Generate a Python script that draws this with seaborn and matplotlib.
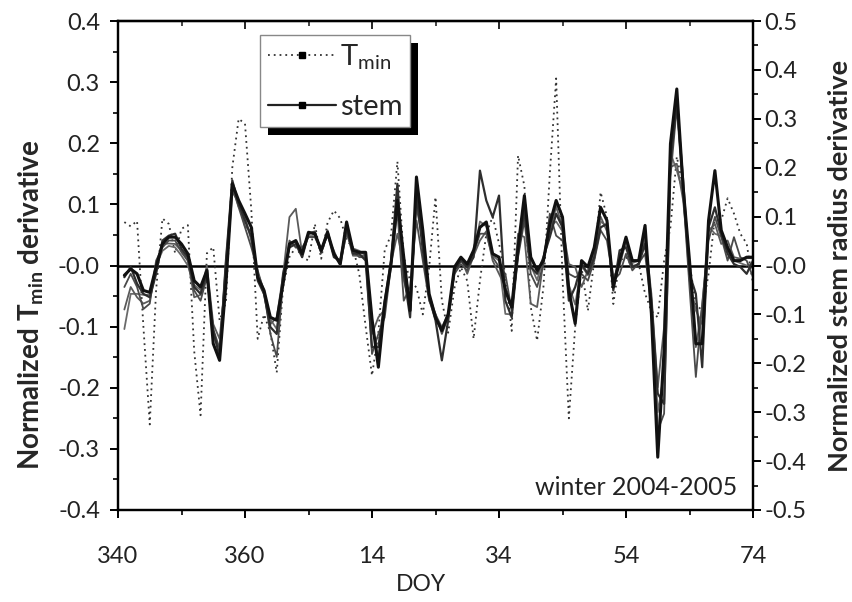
import numpy as np
import pandas as pd
import matplotlib
matplotlib.use("Agg")
import matplotlib.pyplot as plt
import seaborn as sns
from matplotlib.lines import Line2D
from matplotlib.patches import Rectangle

# ---------------- data ----------------
days = list(range(341, 441))  # continuous day index (2004 is leap: 366 -> DOY 0 of 2005)

tmin = [0.071, 0.064, 0.073, -0.10, -0.26, -0.04, 0.077, 0.068, 0.02, 0.060,
        0.066, -0.14, -0.245, 0.02, 0.03, -0.09, -0.06, 0.16, 0.24, 0.232,
        0.09, -0.12, -0.08, -0.11, -0.175, -0.035, 0.014, 0.03, 0.014, 0.008,
        0.068, 0.011, 0.07, 0.09, 0.077, 0.041, 0.03, -0.014, -0.10, -0.18,
        -0.11, 0.025, 0.05, 0.17, 0.014, -0.025, -0.036, -0.08, -0.003, 0.112,
        -0.057, -0.11, -0.036, -0.003, -0.025, -0.12, -0.025, 0.052, 0.08, 0.036,
        -0.014, -0.107, 0.18, 0.13, -0.068, -0.123, -0.035, 0.15, 0.306, -0.02,
        -0.25, -0.10, -0.003, -0.074, 0.008, 0.12, 0.08, -0.063, 0.008, 0.014,
        -0.003, 0.003, -0.046, -0.074, -0.085, 0.008, 0.063, 0.178, 0.128, 0.003,
        -0.063, -0.074, -0.014, 0.079, 0.074, 0.11, 0.085, 0.052, 0.036, -0.03]

stem_a = [-0.02, -0.007, -0.017, -0.051, -0.055, -0.003, 0.044, 0.058, 0.058, 0.044,
          0.024, -0.031, -0.044, -0.01, -0.160, -0.194, -0.037, 0.167, 0.133, 0.106,
          0.078, -0.024, -0.051, -0.106, -0.112, -0.037, 0.044, 0.051, 0.024, 0.068,
          0.065, 0.031, 0.068, 0.024, 0.003, 0.089, 0.031, 0.027, 0.027, -0.109,
          -0.208, -0.078, 0.003, 0.133, 0.017, -0.092, 0.181, 0.072, -0.058, -0.106,
          -0.133, -0.099, -0.003, 0.017, 0.003, 0.031, 0.078, 0.089, 0.024, 0.017,
          -0.051, -0.085, 0.037, 0.143, 0.017, -0.01, 0.010, 0.085, 0.133, 0.099,
          -0.051, -0.119, 0.010, -0.003, 0.037, 0.119, 0.092, -0.044, 0.010, 0.058,
          0.010, 0.010, 0.082, -0.099, -0.392, -0.174, 0.249, 0.361, 0.160, 0.010,
          -0.160, -0.160, 0.092, 0.194, 0.072, 0.037, 0.010, 0.010, 0.017, 0.017]

stem_b = [-0.024, -0.003, -0.037, -0.058, -0.065, -0.017, 0.051, 0.061, 0.065, 0.034,
          0.017, -0.044, -0.058, -0.017, -0.133, -0.187, 0.010, 0.174, 0.126, 0.092,
          0.058, -0.031, -0.058, -0.126, -0.140, -0.017, 0.037, 0.044, 0.017, 0.065,
          0.068, 0.027, 0.065, 0.017, 0.010, 0.078, 0.024, 0.024, 0.010, -0.167,
          -0.167, -0.072, 0.010, 0.167, -0.017, -0.106, 0.147, 0.031, -0.065, -0.112,
          -0.194, -0.112, -0.010, 0.010, -0.003, 0.017, 0.194, 0.133, 0.099, 0.143,
          -0.072, -0.106, 0.024, 0.112, -0.003, -0.017, 0.017, 0.058, 0.106, 0.078,
          -0.072, -0.044, 0.003, -0.017, 0.017, 0.078, 0.085, -0.051, 0.031, 0.037,
          -0.003, 0.003, 0.044, -0.072, -0.262, -0.283, 0.215, 0.331, 0.174, -0.017,
          -0.058, -0.208, 0.078, 0.119, 0.065, 0.024, 0.003, -0.003, -0.017, 0.010]

stem_c = [-0.044, -0.017, -0.044, -0.089, -0.078, 0.010, 0.037, 0.051, 0.051, 0.027,
          0.010, -0.051, -0.072, -0.024, -0.13, -0.17, 0.0, 0.160, 0.119, 0.078,
          0.037, -0.010, -0.055, -0.140, -0.187, -0.031, 0.051, 0.037, 0.037, 0.058,
          0.058, 0.03, 0.072, 0.02, 0.005, 0.065, 0.03, 0.017, 0.017, -0.181,
          -0.140, -0.106, 0.0, 0.112, -0.072, -0.044, 0.092, 0.010, -0.072, -0.099,
          -0.140, -0.106, -0.017, 0.003, -0.010, 0.024, 0.065, 0.065, 0.017, -0.003,
          -0.017, -0.092, 0.017, 0.092, -0.017, -0.044, 0.003, 0.106, 0.061, 0.051,
          -0.017, -0.024, -0.017, -0.031, 0.010, 0.072, 0.051, -0.031, -0.017, 0.024,
          -0.010, 0.005, 0.024, -0.085, -0.337, -0.303, 0.181, 0.324, 0.147, -0.044,
          -0.228, -0.078, 0.051, 0.099, 0.058, 0.010, 0.058, 0.017, 0.010, -0.024]

stem_d = [-0.09, -0.044, -0.065, -0.078, -0.072, -0.01, 0.044, 0.045, 0.044, 0.03,
          0.01, -0.065, -0.06, 0.0, -0.12, -0.15, -0.02, 0.15, 0.13, 0.08,
          0.07, -0.02, -0.06, -0.12, -0.106, -0.02, 0.099, 0.116, 0.024, 0.06,
          0.06, 0.035, 0.06, 0.03, 0.0, 0.07, 0.02, 0.02, 0.02, -0.14,
          -0.106, -0.09, 0.005, 0.065, 0.0, -0.072, 0.12, 0.05, -0.06, -0.10,
          -0.126, -0.10, -0.005, 0.015, -0.017, 0.02, 0.051, 0.07, 0.010, -0.017,
          -0.044, -0.09, 0.065, 0.058, -0.078, -0.085, 0.01, 0.07, 0.12, 0.08,
          0.003, -0.003, -0.044, -0.01, 0.03, 0.10, 0.07, -0.024, 0.0, 0.05,
          0.0, 0.0, 0.06, -0.058, -0.249, -0.126, 0.201, 0.208, 0.133, 0.0,
          -0.167, -0.085, 0.07, 0.085, 0.044, 0.051, 0.017, 0.014, 0.015, 0.015]

stem_e = [-0.13, -0.058, -0.058, -0.06, -0.06, 0.0, 0.03, 0.04, 0.037, 0.02,
          0.0, -0.04, -0.05, -0.01, -0.14, -0.18, 0.01, 0.165, 0.12, 0.1,
          0.05, -0.015, -0.05, -0.11, -0.13, -0.03, 0.04, 0.05, 0.03, 0.065,
          0.07, 0.025, 0.07, 0.02, 0.01, 0.08, 0.035, 0.03, 0.02, -0.12,
          -0.19, -0.08, 0.01, 0.14, -0.03, -0.08, 0.16, 0.04, -0.07, -0.11,
          -0.13, -0.105, -0.01, 0.01, 0.0, 0.025, 0.09, 0.08, 0.02, 0.01,
          -0.099, -0.10, 0.03, 0.12, 0.0, -0.03, 0.015, 0.08, 0.09, 0.07,
          -0.04, -0.08, 0.0, -0.02, 0.02, 0.09, 0.08, -0.04, 0.02, 0.04,
          0.005, 0.01, 0.05, -0.08, -0.30, -0.22, 0.23, 0.194, 0.15, -0.03,
          -0.092, -0.12, 0.08, 0.065, 0.06, 0.03, 0.01, 0.005, 0.0, 0.005]

xtick_pos = [340, 360, 380, 400, 420, 440]
xtick_labels = ["340", "360", "14", "34", "54", "74"]

# ---------------- style ----------------
sns.set_theme(style="ticks")
plt.rcParams["font.family"] = ["Lato", "DejaVu Sans"]
plt.rcParams["mathtext.fontset"] = "custom"
plt.rcParams["mathtext.rm"] = "Lato"
plt.rcParams["mathtext.it"] = "Lato:italic"
plt.rcParams["mathtext.bf"] = "Lato:bold"

fig = plt.figure(figsize=(8.53, 6.02), dpi=100)
ax = fig.add_axes([118 / 853, 92 / 602, 635 / 853, 489 / 602])
ax2 = ax.twinx()

df = pd.DataFrame({"day": days, "tmin": tmin, "a": stem_a, "b": stem_b,
                   "c": stem_c, "d": stem_d, "e": stem_e})

# Tmin on left axis (dotted)
sns.lineplot(data=df, x="day", y="tmin", ax=ax, color="#333333", lw=1.3,
             linestyle=(0, (1, 2.2)), estimator=None, zorder=3)
ax.axhline(0, color="black", lw=1.8, zorder=2)

# stem series on right axis
for col, c, w in [("e", "#6a6a6a", 1.3), ("d", "#5a5a5a", 1.3), ("c", "#4a4a4a", 1.3),
                  ("b", "#2e2e2e", 1.6), ("a", "#111111", 2.2)]:
    sns.lineplot(data=df, x="day", y=col, ax=ax2, color=c, lw=w, estimator=None)

ax.set_xlim(340, 440)
ax.set_ylim(-0.4, 0.4)
ax2.set_ylim(-0.5, 0.5)

TICK_FS = 17
ax.set_xticks(xtick_pos)
ax.set_xticklabels(xtick_labels)
ax.set_xticks(np.arange(350, 440, 20), minor=True)
ax.set_yticks(np.arange(-0.4, 0.41, 0.1))
ax.set_yticklabels([f"{v:.1f}" for v in np.arange(-0.4, 0.41, 0.1)])
ax.set_yticks(np.arange(-0.35, 0.4, 0.1), minor=True)
ax2.set_yticks(np.arange(-0.5, 0.51, 0.1))
ax2.set_yticklabels([f"{v:.1f}" for v in np.arange(-0.5, 0.51, 0.1)])
ax2.set_yticks(np.arange(-0.45, 0.5, 0.1), minor=True)

for a in (ax, ax2):
    for s in a.spines.values():
        s.set_linewidth(1.6)
        s.set_color("black")

ax.tick_params(axis="both", which="major", direction="out", length=6, width=1.4,
               labelsize=TICK_FS, color="black", labelcolor="#222222", pad=7)
ax.tick_params(axis="x", which="major", pad=20)
ax.tick_params(axis="both", which="minor", direction="out", length=3.5, width=1.2, color="black")
ax2.tick_params(axis="y", which="major", direction="out", length=6, width=1.4,
                labelsize=TICK_FS, color="black", labelcolor="#222222", pad=2)
ax2.tick_params(axis="y", which="minor", direction="out", length=3.5, width=1.2, color="black")

secx = ax.secondary_xaxis("top")
secx.set_xticks(xtick_pos)
secx.set_xticks(np.arange(350, 440, 20), minor=True)
secx.tick_params(which="major", direction="in", length=6, width=1.4, labeltop=False)
secx.tick_params(which="minor", direction="in", length=3.5, width=1.2)
secx.spines["top"].set_linewidth(1.6)

ax.set_xlabel("DOY", fontsize=16.5, color="#222222")
ax.xaxis.set_label_coords((421 - 118) / 635, -(574 - 510) / 489)
ax.set_ylabel(r"Normalized T$_{\mathbf{min}}$ derivative", fontsize=20,
              fontweight="bold")
ax.yaxis.set_label_coords(-(118 - 46) / 635, (510 - 305) / 489)
ax2.set_ylabel("Normalized stem radius derivative", fontsize=19.5, fontweight="bold",
               labelpad=16, rotation=90)
ax2.yaxis.set_label_position("right")

ax.text(0.975, 0.045, "winter 2004-2005", transform=ax.transAxes, ha="right",
        va="center", fontsize=18, color="#222222")

handles = [Line2D([], [], color="#333333", lw=1.3, linestyle=(0, (1, 2.2)),
                  marker="s", markersize=5, markerfacecolor="black", markeredgecolor="black"),
           Line2D([], [], color="#222222", lw=1.6, marker="s", markersize=5,
                  markerfacecolor="black", markeredgecolor="black")]
leg = ax2.legend(handles, [r"T$_{\mathrm{min}}$", "stem"], loc="upper left",
                 bbox_to_anchor=(0.224, 0.971), fontsize=21, handlelength=2.35,
                 handletextpad=0.15, labelspacing=0.75, borderpad=0.25, borderaxespad=0,
                 frameon=True, fancybox=False, edgecolor="#888888", framealpha=1)
leg.get_frame().set_linewidth(1.0)
leg.set_zorder(10)

fig.canvas.draw()
bb = leg.get_window_extent()
shadow = Rectangle((bb.x0 + 8, bb.y0 - 8), bb.width, bb.height, transform=None,
                   facecolor="black", edgecolor="none", zorder=9)
ax2.add_artist(shadow)

fig.savefig("out.png", dpi=100)
